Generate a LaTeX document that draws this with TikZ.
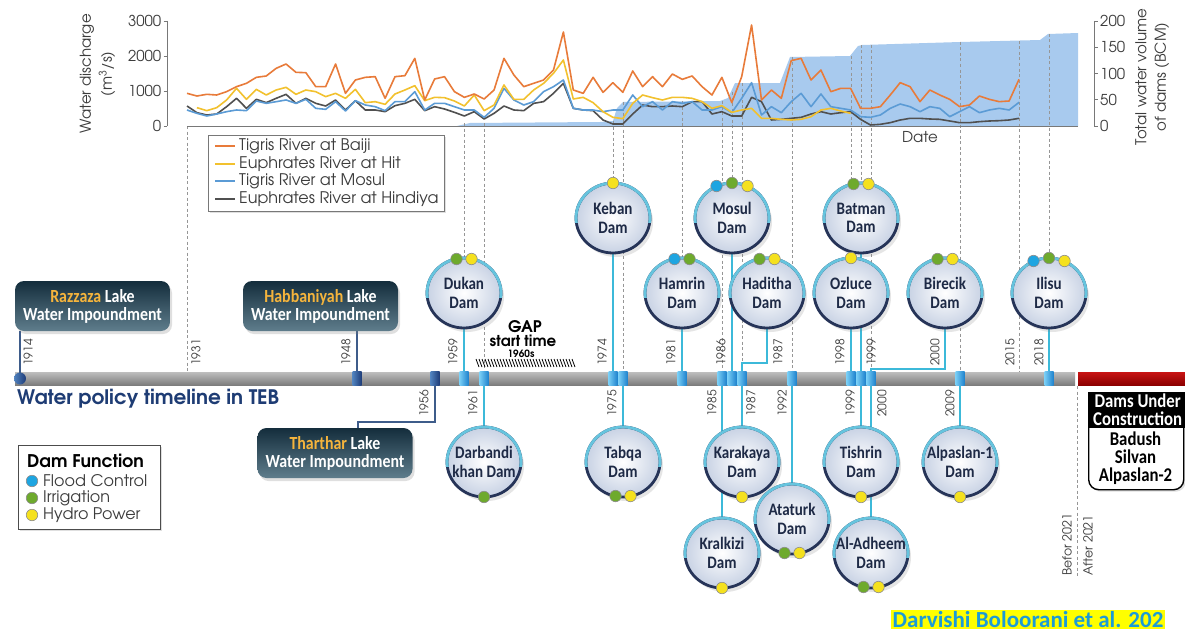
\documentclass[tikz,border=0pt]{standalone}
\usepackage{fontspec}
\setmainfont{Carlito}
\newfontfamily\gfont{texgyreadventor}[Extension=.otf,UprightFont=*-regular,BoldFont=*-bold]
\newfontfamily\cfont{Carlito}[FakeStretch=0.86]
\newfontfamily\cwfont{Carlito}
\usetikzlibrary{shapes.geometric,shadows}
\definecolor{serO}{RGB}{232,123,58}
\definecolor{serY}{RGB}{242,193,46}
\definecolor{serB}{RGB}{91,155,213}
\definecolor{serG}{RGB}{80,80,80}
\definecolor{areaC}{RGB}{168,202,238}
\definecolor{axisC}{RGB}{120,120,120}
\definecolor{txtC}{RGB}{60,60,60}
\definecolor{dashC}{RGB}{150,150,150}
\definecolor{connC}{RGB}{60,185,217}
\definecolor{lakeC}{RGB}{62,92,138}
\definecolor{navyD}{RGB}{38,52,88}
\definecolor{ringC}{RGB}{102,196,222}
\definecolor{damOut}{RGB}{200,210,228}
\definecolor{damTxt}{RGB}{30,42,70}
\definecolor{mkL}{RGB}{120,205,245}
\definecolor{mkD}{RGB}{30,130,205}
\definecolor{mkDL}{RGB}{80,130,190}
\definecolor{mkDD}{RGB}{30,60,120}
\definecolor{barT}{RGB}{190,190,190}
\definecolor{barB}{RGB}{125,125,125}
\definecolor{redT}{RGB}{200,20,20}
\definecolor{redB}{RGB}{140,0,0}
\definecolor{lakeT}{RGB}{20,45,60}
\definecolor{lakeB}{RGB}{95,125,140}
\definecolor{goldC}{RGB}{245,180,60}
\definecolor{dBlue}{RGB}{30,165,225}
\definecolor{dGreen}{RGB}{110,170,45}
\definecolor{dYellow}{RGB}{245,225,30}
\definecolor{titleC}{RGB}{30,60,116}
\definecolor{citeC}{RGB}{28,155,214}
\definecolor{citeBg}{RGB}{255,255,0}
\pgfdeclarelayer{back}
\pgfdeclarelayer{mid}
\pgfsetlayers{back,mid,main}

\newcommand\damnode[4]{%
  \node[dam] (#1) at (#2,#3) {};
  \begin{scope}
    \clip (#2-46,#3-46) rectangle (#2+46,#3+4);
    \node[damring] (#1r) at (#2,#3) {};
  \end{scope}
  \node[damtxt] (#1t) at (#2,#3) {#4};
}
\newcommand\fd[5]{\node[fdot,fill=#3] (#1#2) at ([shift={(#4,#5)}]#1.center) {};}

\begin{document}
\begin{tikzpicture}[x=1pt,y=-1pt,
  yrA/.style={font=\gfont\fontsize{12}{12}\selectfont, text=txtC, rotate=90, inner sep=0pt, anchor=west},
  yrB/.style={font=\gfont\fontsize{12}{12}\selectfont, text=txtC, rotate=90, inner sep=0pt, anchor=east},
  dashv/.style={dashC, line width=0.7pt, dash pattern=on 3pt off 2.5pt},
  conn/.style={connC, line width=2.6pt},
  lakeln/.style={lakeC, line width=2.6pt},
  mk/.style={rectangle, minimum width=9pt, minimum height=14pt, inner sep=0pt, left color=mkL, right color=mkD},
  mkd/.style={rectangle, minimum width=9pt, minimum height=14pt, inner sep=0pt, left color=mkDL, right color=mkDD},
  dam/.style={ellipse, minimum width=74pt, minimum height=70pt, inner sep=0pt, draw=navyD, line width=2.8pt, inner color=white, outer color=damOut, drop shadow={shadow xshift=3pt, shadow yshift=-4pt, opacity=0.2}},
  damring/.style={ellipse, minimum width=74pt, minimum height=70pt, inner sep=0pt, draw=ringC, line width=2.8pt},
  damtxt/.style={font=\cfont\bfseries\fontsize{17.5}{18.5}\selectfont, text=damTxt, align=center, inner sep=0pt},
  fdot/.style={circle, minimum size=11.5pt, inner sep=0pt, draw=black!45, line width=0.6pt},
  lake/.style={rectangle, rounded corners=9pt, minimum width=155pt, minimum height=50pt, top color=lakeT, bottom color=lakeB, text=white, align=center, font=\cfont\bfseries\fontsize{18.5}{18}\selectfont, drop shadow={shadow xshift=2pt, shadow yshift=-3pt, opacity=0.25}},
  legtxt/.style={font=\gfont\fontsize{16}{16}\selectfont, text=txtC, anchor=west, inner sep=0pt},
  axlab/.style={font=\gfont\fontsize{15}{15}\selectfont, text=txtC, inner sep=0pt},
  serline/.style={line width=1.6pt, line join=round}
]
\useasboundingbox (0,0) rectangle (1185,634);

% ---------------- back layer: background, area, dashed guides, bar
\begin{pgfonlayer}{back}
\fill[white] (0,0) rectangle (1185,634);
\fill[areaC] (457,126) -- (470,123) -- (600,122) -- (613,121) -- (617,108) -- (623,102) -- (720,101) -- (728,98) -- (735,83) -- (780,83) -- (790,57) -- (850,56) -- (858,46) -- (862,45) -- (960,42) -- (1040,40) -- (1048,34) -- (1078,33) -- (1078,126) -- cycle;
\foreach \x/\y in {187/126,464/123,484/123,613/121,623/102,682/101,722/101,732/92,742/83,792/57,851/56,861/45,871/45,960/42,1019/41,1049/34}
  \draw[dashv] (\x,\y) -- (\x,372);
\draw[dashv] (1077,386) -- (1077,578);
\shade[top color=barT, bottom color=barB] (15,372) rectangle (1075,385);
\shade[top color=redT, bottom color=redB] (1078,372) rectangle (1185,385);
\end{pgfonlayer}

% ---------------- chart axes
\draw[axisC, line width=0.9pt] (187,126) -- (1078,126);
\draw[axisC, line width=0.9pt] (167,21) -- (167,126);
\foreach \v in {0,1000,2000,3000} {
  \draw[axisC, line width=0.9pt] (163.5,{126-\v*0.035}) -- (167,{126-\v*0.035});
  \node[axlab, anchor=east] (ll\v) at (161.5,{126-\v*0.035}) {\v};
}
\draw[axisC, line width=0.9pt] (1094,21) -- (1094,126);
\foreach \v in {0,50,100,150,200} {
  \draw[axisC, line width=0.9pt] (1094,{126-\v*0.525}) -- (1097.5,{126-\v*0.525});
  \node[axlab, anchor=west] (rl\v) at (1100,{126-\v*0.525}) {\v};
}
\node[axlab, rotate=90] (ylab1) at (87,74) {Water discharge};
\node[axlab, rotate=90] (ylab2) at (107,74) {(m\textsuperscript{3}/s)};
\node[axlab, rotate=90] (ylab3) at (1141,77) {Total water volume};
\node[axlab, rotate=90] (ylab4) at (1162,77) {of dams (BCM)};
\node[axlab] (datelab) at (920,137) {Date};

% ---------------- series
\draw[serline, serG] (187,{40+198/3}) foreach \v [count=\i] in {218,225,222,200,175,205,178,188,175,
163,190,175,190,198,180,210,182,210,210,
215,197,190,178,212,200,207,217,228,215,
237,220,198,210,212,190,185,160,130,205,
210,212,240,252,252,222,195,200,200,198,
200,185,185,222,215,228,228,172,185,240,
238,235,232,222,215,222,218,215,238,255,
253,248,240,235,235,237,238,243,248,248,
245,243,242,240,235} { -- ({187+\i*9.905},{40+\v/3}) };
\draw[serline, serB] (187,{40+210/3}) foreach \v [count=\i] in {220,228,222,215,210,212,183,190,185,
180,190,178,205,208,185,213,182,195,200,
212,185,185,155,210,190,190,200,210,210,
232,205,145,180,195,185,155,140,120,205,
210,210,215,210,210,165,200,185,210,185,
190,185,210,210,200,218,175,128,225,200,
218,185,160,200,162,200,205,210,230,232,
225,205,192,200,215,200,205,230,215,200,
218,210,205,210,187} { -- ({187+\i*9.905},{40+\v/3}) };
\draw[serline, serY] (196.905,{40+203/3}) foreach \v [count=\i] in {212,203,180,145,178,148,165,150,
142,163,150,155,170,160,175,148,188,185,
193,162,150,137,182,172,173,183,198,165,
212,195,135,178,178,150,130,100,60,177,
172,188,215,232,236,190,165,173,180,172,
172,175,185,205,197,217,210,205,235,235,
238,240,238,230,210,205,213,220} { -- ({196.905+\i*9.905},{40+\v/3}) };
\draw[serline, serO] (187,{40+160/3}) foreach \v [count=\i] in {168,163,165,155,140,130,112,108,85,
72,97,98,140,140,72,160,120,112,110,
175,110,107,55,180,117,110,155,172,162,
177,150,55,105,140,130,120,90,-24,150,
160,112,157,128,157,93,140,110,140,102,
118,108,140,165,112,188,110,-45,180,150,
175,62,55,120,90,155,145,145,205,205,
200,165,128,140,185,150,165,178,200,195,
168,178,185,183,118} { -- ({187+\i*9.905},{40+\v/3}) };

% ---------------- chart legend
\node[draw=axisC, fill=white, line width=0.9pt, minimum width=236pt, minimum height=76pt, anchor=north west, inner sep=0pt, drop shadow={shadow xshift=2pt, shadow yshift=-2pt, opacity=0.25}] (leg) at (208,135) {};
\draw[serO, line width=2.6pt] (215,146) -- (235,146);
\draw[serY, line width=2.6pt] (215,164) -- (235,164);
\draw[serB, line width=2.6pt] (215,181) -- (235,181);
\draw[serG, line width=2.6pt] (215,199) -- (235,199);
\node[legtxt] (lg1) at (239,146) {Tigris River at Baiji};
\node[legtxt] (lg2) at (239,164) {Euphrates River at Hit};
\node[legtxt] (lg3) at (239,181) {Tigris River at Mosul};
\node[legtxt] (lg4) at (239,199) {Euphrates River at Hindiya};

% ---------------- markers
\node[circle, minimum size=12pt, inner sep=0pt, left color=mkDL, right color=mkDD] (m1914) at (20,378.5) {};
\node[mkd] (m1948) at (357,378.5) {};
\node[mkd] (m1956) at (435,378.5) {};
\foreach \x/\t in {464/1959,484/1961,613/1974,623/1975,682/1981,722/1985,732/1986,742/1987,792/1992,851/1998,861/1999,871/2000,960/2009,1049/2018}
  \node[mk] (m\t) at (\x,378.5) {};

% ---------------- year labels
\foreach \x/\t in {28/1914,196/1931,346/1948,453/1959,602/1974,671/1981,721/1986,778/1987,840/1998,871/1999,935/2000,1010/2015,1039/2018}
  \node[yrA] (ya\t) at (\x,366) {\t};
\foreach \x/\t in {424/1956,473/1961,612/1975,712/1985,751/1987,782/1992,850/1999,882/2000,950/2009}
  \node[yrB] (yb\t) at (\x,390) {\t};
\node[font=\gfont\fontsize{12.5}{13}\selectfont, text=txtC, rotate=90, inner sep=0pt, anchor=west] (bef) at (1067,576) {Befor 2021};
\node[font=\gfont\fontsize{12.5}{13}\selectfont, text=txtC, rotate=90, inner sep=0pt, anchor=west] (aft) at (1088,576) {After 2021};

% ---------------- lake boxes
\node[lake] (razz) at (92.5,306) {{\color{goldC}Razzaza} Lake\\Water Impoundment};
\node[lake] (habb) at (320.5,306) {{\color{goldC}Habbaniyah} Lake\\Water Impoundment};
\node[lake] (thar) at (335,453) {{\color{goldC}Tharthar} Lake\\Water Impoundment};
\coordinate (cthar) at (358,422);

% ---------------- dams
\damnode{dukan}{464}{293}{Dukan\\Dam}
\fd{dukan}{g}{dGreen}{-7.5}{-34}\fd{dukan}{y}{dYellow}{7.5}{-34}
\damnode{keban}{613}{218}{Keban\\Dam}
\fd{keban}{y}{dYellow}{0}{-35}
\damnode{mosul}{732}{218}{Mosul\\Dam}
\fd{mosul}{b}{dBlue}{-15.5}{-32}\fd{mosul}{g}{dGreen}{0}{-35}\fd{mosul}{y}{dYellow}{15.5}{-32}
\damnode{hamrin}{682}{293}{Hamrin\\Dam}
\fd{hamrin}{b}{dBlue}{-7.5}{-34}\fd{hamrin}{g}{dGreen}{7.5}{-34}
\damnode{haditha}{767}{293}{Haditha\\Dam}
\fd{haditha}{g}{dGreen}{-7.5}{-34}\fd{haditha}{y}{dYellow}{7.5}{-34}
\damnode{batman}{861}{218}{Batman\\Dam}
\fd{batman}{g}{dGreen}{-7.5}{-34}\fd{batman}{y}{dYellow}{7.5}{-34}
\damnode{ozluce}{851}{293}{Ozluce\\Dam}
\fd{ozluce}{y}{dYellow}{0}{-35}
\damnode{birecik}{945}{293}{Birecik\\Dam}
\fd{birecik}{g}{dGreen}{-7.5}{-34}\fd{birecik}{y}{dYellow}{7.5}{-34}
\damnode{ilisu}{1049}{293}{Ilisu\\Dam}
\fd{ilisu}{b}{dBlue}{-15.5}{-32}\fd{ilisu}{g}{dGreen}{0}{-35}\fd{ilisu}{y}{dYellow}{15.5}{-32}
\damnode{darband}{484}{462}{Darbandi\\khan Dam}
\fd{darband}{g}{dGreen}{0}{35}
\damnode{tabqa}{623}{462}{Tabqa\\Dam}
\fd{tabqa}{g}{dGreen}{-7.5}{34}\fd{tabqa}{y}{dYellow}{7.5}{34}
\damnode{karakaya}{742}{462}{Karakaya\\Dam}
\fd{karakaya}{y}{dYellow}{0}{35}
\damnode{kralkizi}{722}{553}{Kralkizi\\Dam}
\fd{kralkizi}{y}{dYellow}{0}{35}
\damnode{tishrin}{861}{462}{Tishrin\\Dam}
\fd{tishrin}{y}{dYellow}{0}{35}
\damnode{aladheem}{871}{553}{Al-Adheem\\Dam}
\fd{aladheem}{g}{dGreen}{-7.5}{34}\fd{aladheem}{y}{dYellow}{7.5}{34}
\damnode{ataturk}{792}{519}{Ataturk\\Dam}
\fd{ataturk}{g}{dGreen}{-7.5}{34}\fd{ataturk}{y}{dYellow}{7.5}{34}
\damnode{alpas}{960}{462}{Alpaslan-1\\Dam}
\fd{alpas}{y}{dYellow}{0}{35}

\coordinate (hadE) at (742,363);
\coordinate (birE) at (871,369);

% ---------------- connectors (mid layer)
\begin{pgfonlayer}{mid}
\draw[lakeln] (m1914.center) -- (m1914 |- razz.south);
\draw[lakeln] (m1948.north) -- (m1948 |- habb.south);
\draw[lakeln] (m1956.south) |- (cthar) -- (cthar |- thar.north);
\draw[conn] (m1959.north) -- (m1959 |- dukan.south);
\draw[conn] (m1961.south) -- (m1961 |- darband.north);
\draw[conn] (m1974.north) -- (m1974 |- keban.south);
\draw[conn] (m1975.south) -- (m1975 |- tabqa.north);
\draw[conn] (m1981.north) -- (m1981 |- hamrin.south);
\draw[conn] (m1986.north) -- (m1986 |- mosul.south);
\draw[conn] (m1987.north) -- (hadE) -| (haditha.south);
\draw[conn] (m1987.south) -- (m1987 |- karakaya.north);
\draw[conn] (m1985.south) -- (m1985 |- kralkizi.north);
\draw[conn] (m1992.south) -- (m1992 |- ataturk.north);
\draw[conn] (m1998.north) -- (m1998 |- ozluce.south);
\draw[conn] (m1999.north) -- (m1999 |- batman.south);
\draw[conn] (m1999.south) -- (m1999 |- tishrin.north);
\draw[conn] (m2000.north) -- (birE) -| (birecik.south);
\draw[conn] (m2000.south) -- (m2000 |- aladheem.north);
\draw[conn] (m2009.south) -- (m2009 |- alpas.north);
\draw[conn] (m2018.north) -- (m2018 |- ilisu.south);
\end{pgfonlayer}

% ---------------- GAP
\node[font=\gfont\bfseries\fontsize{16}{16}\selectfont, inner sep=0pt] (gapA) at (525,327) {GAP};
\node[font=\gfont\bfseries\fontsize{15}{15}\selectfont, inner sep=0pt] (gapB) at (523,341) {start time};
\node[font=\gfont\bfseries\fontsize{10}{10}\selectfont, inner sep=0pt] (gapC) at (521,354) {1960s};
\foreach \h in {0,3,...,96} \draw[line width=0.8pt] (476+\h,359) -- (479+\h,367);

% ---------------- title
\node[font=\gfont\bfseries\fontsize{20}{20}\selectfont, text=titleC, anchor=west, inner sep=0pt] (title) at (17,399) {Water policy timeline in TEB};

% ---------------- Dam function legend
\node[draw=black!70, fill=white, line width=0.9pt, minimum width=142pt, minimum height=84pt, anchor=north west, inner sep=0pt, drop shadow={shadow xshift=2pt, shadow yshift=-2pt, opacity=0.25}] (dfbox) at (18,445) {};
\node[font=\gfont\bfseries\fontsize{17.5}{17}\selectfont, anchor=west, inner sep=0pt] (dftitle) at (27,461) {Dam Function};
\node[fdot, fill=dBlue] (dfb) at (32,481) {};
\node[fdot, fill=dGreen] (dfg) at (32,498) {};
\node[fdot, fill=dYellow] (dfy) at (32,515) {};
\node[legtxt] (dft1) at (43,481) {Flood Control};
\node[legtxt] (dft2) at (43,498) {Irrigation};
\node[legtxt] (dft3) at (43,515) {Hydro Power};

% ---------------- dams under construction
\node[draw=black, fill=white, line width=1.4pt, rounded corners=10pt, minimum width=95pt, minimum height=79pt, anchor=north west, inner sep=0pt, drop shadow={shadow xshift=2pt, shadow yshift=-2pt, opacity=0.25}] (ducb) at (1088,410) {};
\node[fill=black, text=white, minimum width=99pt, minimum height=36pt, anchor=north west, inner sep=0pt, align=center, font=\cfont\bfseries\fontsize{19.5}{18}\selectfont] (duc) at (1088,392) {Dams Under\\Construction};
\node[align=center, inner sep=0pt, font=\cfont\bfseries\fontsize{19.5}{18}\selectfont] (ducT) at (1135.5,458) {Badush\\Silvan\\Alpaslan-2};

% ---------------- citation
\node[fill=citeBg, anchor=south west, inner xsep=1.5pt, inner ysep=1.5pt, text=citeC, font=\cwfont\bfseries\fontsize{23}{24}\selectfont] (cite) at (891,629) {Darvishi Boloorani et al. 202};
\end{tikzpicture}
\end{document}
